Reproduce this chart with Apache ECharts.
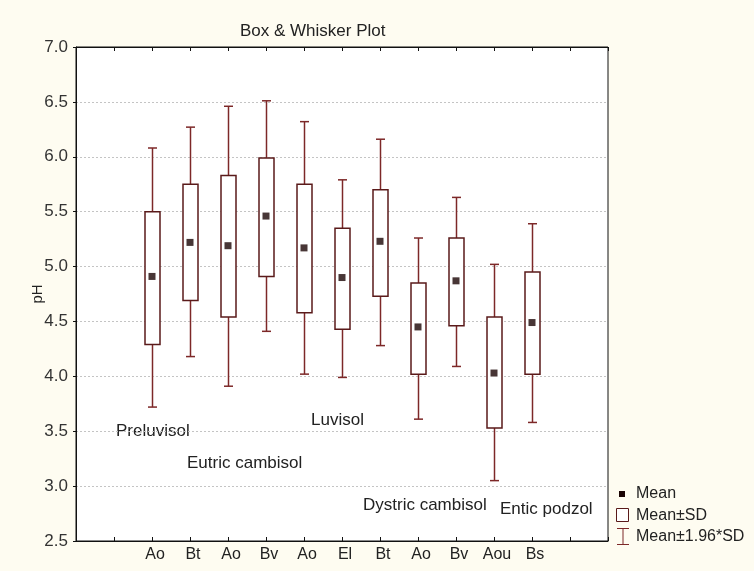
<!DOCTYPE html>
<html>
<head>
<meta charset="utf-8">
<script src="https://cdn.jsdelivr.net/npm/echarts@6/dist/echarts.min.js"></script>
<style>
html,body{margin:0;padding:0;background:#fefcf1;}
#c{width:754px;height:571px;}
</style>
</head>
<body>
<div id="c"></div>
<script>
// x-axis categories (blank slots pad the two ends)
var categories = ['', '', 'Ao', 'Bt', 'Ao', 'Bv', 'Ao', 'El', 'Bt', 'Ao', 'Bv', 'Aou', 'Bs', '', ''];
var boxCategoryIndex = [2, 3, 4, 5, 6, 7, 8, 9, 10, 11, 12];
// values
var means      = [4.91, 5.22, 5.19, 5.46, 5.17, 4.90, 5.23, 4.45, 4.87, 4.03, 4.49];
var sdLow      = [4.29, 4.69, 4.54, 4.91, 4.58, 4.43, 4.73, 4.02, 4.46, 3.53, 4.02];
var sdHigh     = [5.50, 5.75, 5.83, 5.99, 5.75, 5.35, 5.70, 4.85, 5.26, 4.54, 4.95];
var ciLow      = [3.72, 4.18, 3.91, 4.41, 4.02, 3.99, 4.28, 3.61, 4.09, 3.05, 3.58];
var ciHigh     = [6.08, 6.27, 6.46, 6.51, 6.32, 5.79, 6.16, 5.26, 5.63, 5.02, 5.39];
var yTicks = [2.5, 3.0, 3.5, 4.0, 4.5, 5.0, 5.5, 6.0, 6.5, 7.0];
var soilGroups = ['Preluvisol', 'Eutric cambisol', 'Luvisol', 'Dystric cambisol', 'Entic podzol'];
var legendNames = ['Mean', 'Mean±SD', 'Mean±1.96*SD'];

var boxData = boxCategoryIndex.map(function (c, i) {
  return [c, ciLow[i], sdLow[i], means[i], sdHigh[i], ciHigh[i]];
});
var meanData = boxCategoryIndex.map(function (c, i) { return [c, means[i]]; });

var WHISKER = '#7d2828';
var BOXLINE = '#5a1a1a';
var FONT = 'Liberation Sans, Arial, sans-serif';

var chart = echarts.init(document.getElementById('c'), null, {renderer: 'canvas'});
chart.setOption({
  backgroundColor: '#fefcf1',
  animation: false,
  title: {
    text: 'Box & Whisker Plot', left: 235, top: 18,
    textStyle: {fontFamily: FONT, fontSize: 17, fontWeight: 'normal', color: '#222'}
  },
  grid: {left: 76, right: 146, top: 47, bottom: 30, show: true, backgroundColor: '#ffffff',
         borderColor: '#111', borderWidth: 1},
  xAxis: [{
    type: 'category', data: categories, boundaryGap: false, position: 'bottom',
    axisLine: {show: true, lineStyle: {color: '#111'}},
    axisTick: {show: true, inside: true, length: 4, interval: 0, lineStyle: {color: '#111'}},
    axisLabel: {interval: 0, fontFamily: FONT, fontSize: 16, color: '#222', margin: 6,
                padding: [0, 0, 0, 6]},
    splitLine: {show: false}
  }, {
    type: 'category', data: categories, boundaryGap: false, position: 'top',
    axisLine: {show: true, lineStyle: {color: '#111'}},
    axisTick: {show: true, inside: true, length: 4, interval: 0, lineStyle: {color: '#111'}},
    axisLabel: {show: false}, splitLine: {show: false}
  }],
  yAxis: {
    type: 'value', min: yTicks[0], max: yTicks[yTicks.length - 1], interval: 0.5,
    name: 'pH', nameLocation: 'middle', nameGap: 31, nameRotate: 90, nameMoveOverlap: false,
    nameTextStyle: {fontFamily: FONT, fontSize: 15, color: '#222'},
    axisLine: {show: true, lineStyle: {color: '#111'}},
    axisTick: {show: true, length: 3, lineStyle: {color: '#111'}},
    axisLabel: {fontFamily: FONT, fontSize: 17, color: '#333', margin: 8,
                formatter: function (v) { return v.toFixed(1); }},
    splitLine: {show: true, lineStyle: {color: '#c4c4c4', type: [2, 2], width: 1}}
  },
  series: [{
    name: legendNames[2], type: 'custom', xAxisIndex: 0,
    data: boxData,
    renderItem: function (params, api) {
      var x = api.value(0);
      var pLo = api.coord([x, api.value(1)]);
      var pSl = api.coord([x, api.value(2)]);
      var pSh = api.coord([x, api.value(4)]);
      var pHi = api.coord([x, api.value(5)]);
      var cx = Math.round(pLo[0]) + 0.5;
      var bw = 15, cw = 4.5;
      var ls = {stroke: WHISKER, lineWidth: 1.5, fill: null};
      return {
        type: 'group',
        children: [
          {type: 'line', shape: {x1: cx, y1: pHi[1], x2: cx, y2: pSh[1]}, style: ls},
          {type: 'line', shape: {x1: cx, y1: pSl[1], x2: cx, y2: pLo[1]}, style: ls},
          {type: 'line', shape: {x1: cx - cw, y1: pHi[1], x2: cx + cw, y2: pHi[1]}, style: ls},
          {type: 'line', shape: {x1: cx - cw, y1: pLo[1], x2: cx + cw, y2: pLo[1]}, style: ls},
          {type: 'rect', shape: {x: cx - bw / 2, y: pSh[1], width: bw, height: pSl[1] - pSh[1]},
           style: {stroke: BOXLINE, lineWidth: 1.5, fill: '#ffffff'}}
        ]
      };
    },
    z: 2
  }, {
    name: legendNames[0], type: 'scatter', data: meanData,
    symbol: 'rect', symbolSize: 7, itemStyle: {color: '#1a0404'}, z: 5
  }],
  graphic: [
    {type: 'text', left: 116, top: 423, style: {text: soilGroups[0], font: '17px ' + FONT, fill: '#222'}},
    {type: 'text', left: 187, top: 455, style: {text: soilGroups[1], font: '17px ' + FONT, fill: '#222'}},
    {type: 'text', left: 311, top: 412, style: {text: soilGroups[2], font: '17px ' + FONT, fill: '#222'}},
    {type: 'text', left: 363, top: 497, style: {text: soilGroups[3], font: '17px ' + FONT, fill: '#222'}},
    {type: 'text', left: 500, top: 501, style: {text: soilGroups[4], font: '17px ' + FONT, fill: '#222'}},
    // legend
    {type: 'rect', shape: {x: 619, y: 491, width: 6, height: 6}, style: {fill: '#1a0404'}},
    {type: 'text', left: 636, top: 486, style: {text: legendNames[0], font: '16px ' + FONT, fill: '#222'}},
    {type: 'rect', shape: {x: 616.5, y: 508.5, width: 12, height: 13}, style: {fill: '#fff', stroke: BOXLINE, lineWidth: 1}},
    {type: 'text', left: 636, top: 508, style: {text: legendNames[1], font: '16px ' + FONT, fill: '#222'}},
    {type: 'polyline', shape: {points: [[617, 528.5], [629, 528.5]]}, style: {stroke: WHISKER, lineWidth: 1}},
    {type: 'polyline', shape: {points: [[623, 528.5], [623, 544.5]]}, style: {stroke: WHISKER, lineWidth: 1}},
    {type: 'polyline', shape: {points: [[617, 544.5], [629, 544.5]]}, style: {stroke: WHISKER, lineWidth: 1}},
    {type: 'text', left: 636, top: 529, style: {text: legendNames[2], font: '16px ' + FONT, fill: '#222'}}
  ]
});
</script>
</body>
</html>
